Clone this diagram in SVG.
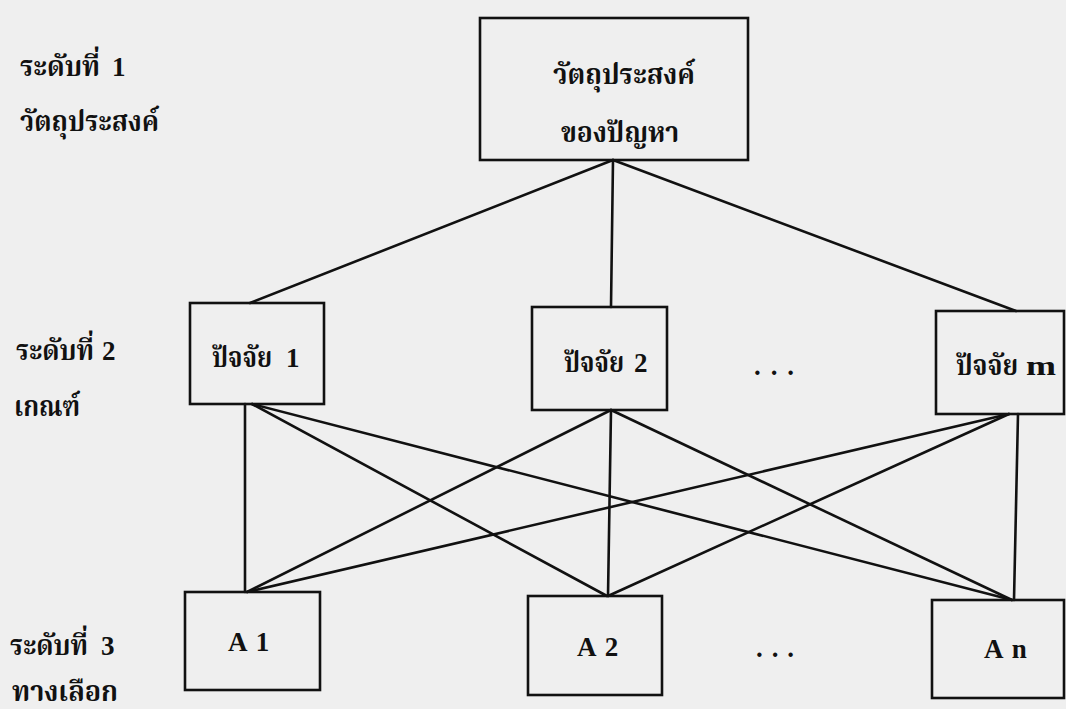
<svg xmlns="http://www.w3.org/2000/svg" width="1066" height="709" viewBox="0 0 1066 709">
<style>
.bx{fill:none;stroke:#111;stroke-width:2.6}
.ln{stroke:#111;stroke-width:2.6;fill:none;stroke-linecap:round}
.t{font-family:"Liberation Serif","Noto Serif Thai","Noto Sans Thai",serif;font-weight:bold;fill:#111;font-size:28px}
.d{font-family:"Liberation Serif",serif;font-weight:bold;fill:#111;font-size:27px}
.a{font-family:"Liberation Serif",serif;font-weight:bold;font-size:27px;fill:#111;word-spacing:3px}
</style>
<rect width="1066" height="709" fill="#efefef"/>
<g id="labels">
<text class="t" x="20" y="76" textLength="80" lengthAdjust="spacingAndGlyphs">ระดับที่</text>
<text class="d" x="112" y="76">1</text>
<text class="t" x="20" y="131" textLength="139" lengthAdjust="spacingAndGlyphs">วัตถุประสงค์</text>
<text class="t" x="16" y="360" textLength="78" lengthAdjust="spacingAndGlyphs">ระดับที่</text>
<text class="d" x="102" y="360">2</text>
<text class="t" x="14" y="416" textLength="66" lengthAdjust="spacingAndGlyphs">เกณฑ์</text>
<text class="t" x="10" y="655" textLength="78" lengthAdjust="spacingAndGlyphs">ระดับที่</text>
<text class="d" x="101" y="655">3</text>
<text class="t" x="12" y="701" textLength="106" lengthAdjust="spacingAndGlyphs">ทางเลือก</text>
</g>
<g id="connectors">
<line class="ln" x1="613" y1="160" x2="250" y2="303"/>
<line class="ln" x1="613" y1="160" x2="611" y2="307"/>
<line class="ln" x1="613" y1="160" x2="1016" y2="311"/>
<line class="ln" x1="245" y1="404" x2="245" y2="592"/>
<line class="ln" x1="252" y1="404" x2="607" y2="596"/>
<line class="ln" x1="252" y1="404" x2="1012" y2="600"/>
<line class="ln" x1="611" y1="410" x2="247" y2="592"/>
<line class="ln" x1="611" y1="410" x2="608" y2="596"/>
<line class="ln" x1="611" y1="410" x2="1012" y2="600"/>
<line class="ln" x1="1009" y1="414" x2="247" y2="592"/>
<line class="ln" x1="1009" y1="414" x2="608" y2="596"/>
<line class="ln" x1="1018" y1="414" x2="1014" y2="600"/>
</g>
<g id="goal">
<rect class="bx" x="480" y="18" width="268" height="142"/>
<text class="t" x="553" y="84" textLength="142" lengthAdjust="spacingAndGlyphs">วัตถุประสงค์</text>
<text class="t" x="561" y="142" textLength="118" lengthAdjust="spacingAndGlyphs">ของปัญหา</text>
</g>
<g id="factor1">
<rect class="bx" x="190" y="303" width="134" height="101"/>
<text class="t" x="212" y="367" textLength="60" lengthAdjust="spacingAndGlyphs">ปัจจัย</text>
<text class="d" x="286" y="367">1</text>
</g>
<g id="factor2">
<rect class="bx" x="532" y="307" width="135" height="103"/>
<text class="t" x="564" y="372" textLength="60" lengthAdjust="spacingAndGlyphs">ปัจจัย</text>
<text class="d" x="634" y="372">2</text>
</g>
<g id="factorm">
<rect class="bx" x="936" y="311" width="128" height="103"/>
<text class="t" x="956" y="375" textLength="62" lengthAdjust="spacingAndGlyphs">ปัจจัย</text>
<text class="d" x="1026" y="375" textLength="30" lengthAdjust="spacingAndGlyphs">m</text>
</g>
<g id="dots1"><text class="a" x="754" y="375" textLength="40">. . .</text></g>
<g id="a1">
<rect class="bx" x="185" y="592" width="135" height="98"/>
<text class="a" x="228" y="651">A 1</text>
</g>
<g id="a2">
<rect class="bx" x="528" y="596" width="134" height="99"/>
<text class="a" x="577" y="656">A 2</text>
</g>
<g id="an">
<rect class="bx" x="932" y="600" width="132" height="98"/>
<text class="a" x="984" y="658">A n</text>
</g>
<g id="dots2"><text class="a" x="756" y="657" textLength="38">. . .</text></g>
</svg>
